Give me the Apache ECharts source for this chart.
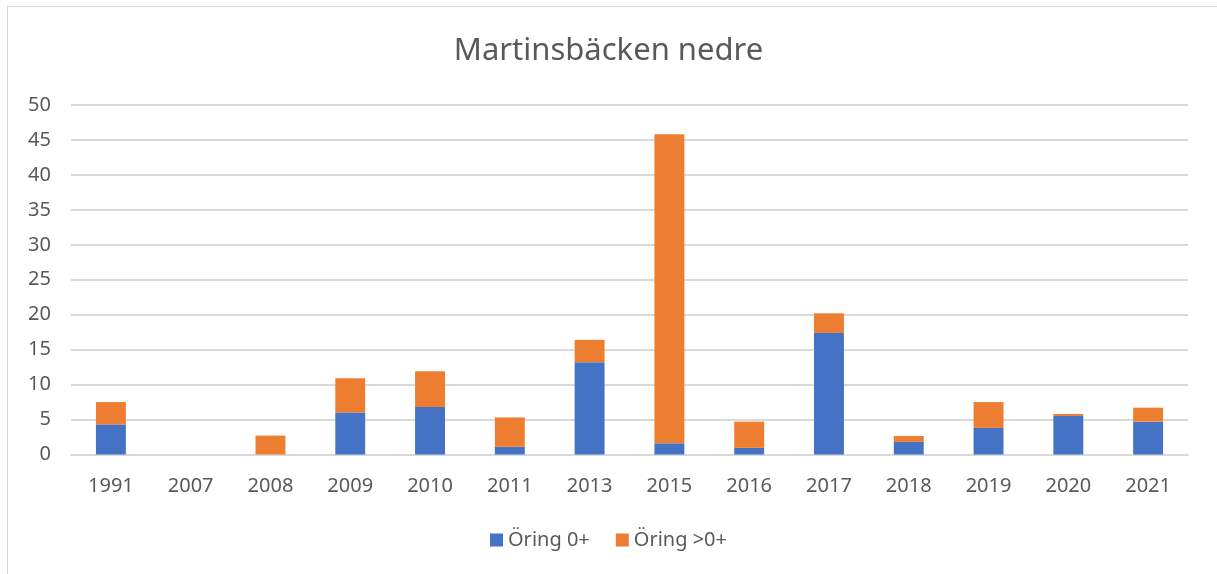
<!DOCTYPE html>
<html>
<head>
<meta charset="utf-8">
<script src="https://cdn.jsdelivr.net/npm/echarts@6/dist/echarts.min.js"></script>
<style>
  html, body { margin: 0; padding: 0; background: #fff; }
  .frame {
    position: absolute; left: 7px; top: 6px;
    width: 1220px; height: 580px;
    border-left: 1px solid #d9d9d9; border-top: 1px solid #d9d9d9;
  }
  #chart { position: absolute; left: 0; top: 0; width: 1217px; height: 574px; }
</style>
</head>
<body>
<div class="frame"></div>
<div id="chart"></div>
<script>
const years = ['1991', '2007', '2008', '2009', '2010', '2011', '2013', '2015', '2016', '2017', '2018', '2019', '2020', '2021'];
const oring0 = [4.3, 0, 0, 6.0, 6.8, 1.1, 13.2, 1.6, 0.95, 17.4, 1.8, 3.8, 5.5, 4.7];
const oringOver0 = [3.2, 0, 2.7, 4.9, 5.1, 4.2, 3.2, 44.2, 3.75, 2.8, 0.85, 3.7, 0.3, 2.0];

const font = 'Noto Sans';
const textColor = '#595959';

const myChart = echarts.init(document.getElementById('chart'));
const option = {
  animation: false,
  title: {
    text: 'Martinsbäcken nedre',
    left: 'center',
    top: 31,
    textStyle: { fontFamily: font, fontSize: 31, fontWeight: 'normal', color: textColor }
  },
  legend: {
    bottom: 19,
    left: 'center',
    itemWidth: 13,
    itemHeight: 13,
    itemGap: 26,
    icon: 'rect',
    textStyle: { fontFamily: font, fontSize: 20, color: textColor }
  },
  grid: { left: 71, right: 29, top: 105, bottom: 119.5 },
  xAxis: {
    type: 'category',
    data: years,
    axisTick: { show: false },
    axisLine: { lineStyle: { color: '#d9d9d9', width: 2 } },
    axisLabel: { fontFamily: font, fontSize: 20, color: textColor, margin: 22 }
  },
  yAxis: {
    type: 'value',
    min: 0,
    max: 50,
    interval: 5,
    axisLabel: { fontFamily: font, fontSize: 20, color: textColor, margin: 20 },
    splitLine: { lineStyle: { color: '#d9d9d9', width: 2 } }
  },
  series: [
    {
      name: 'Öring 0+',
      type: 'bar',
      stack: 'total',
      data: oring0,
      barWidth: '37.5%',
      itemStyle: { color: '#4472c4' }
    },
    {
      name: 'Öring >0+',
      type: 'bar',
      stack: 'total',
      data: oringOver0,
      itemStyle: { color: '#ed7d31' }
    }
  ]
};

option && myChart.setOption(option);
</script>
</body>
</html>
